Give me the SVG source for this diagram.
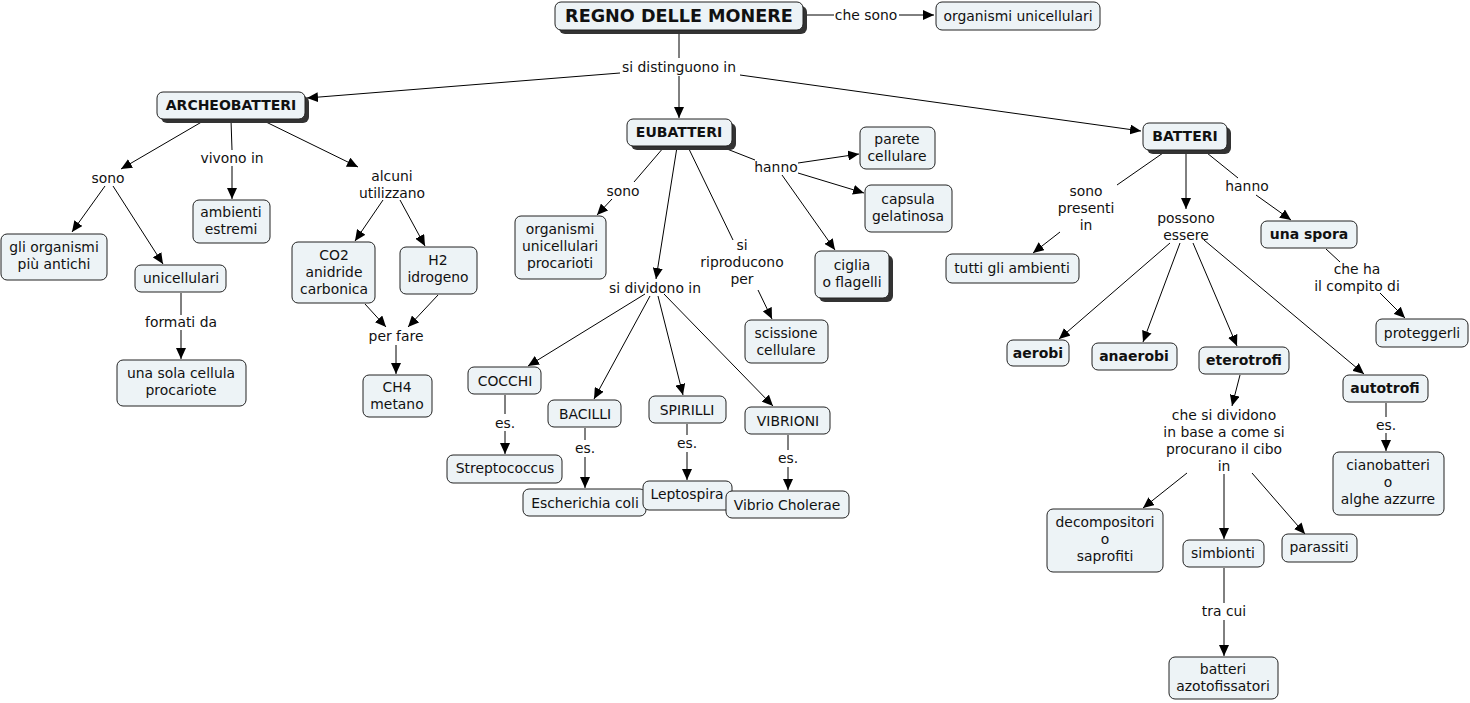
<svg xmlns="http://www.w3.org/2000/svg" width="1470" height="703" viewBox="0 0 1470 703">
<defs>
<marker id="arr" markerUnits="userSpaceOnUse" markerWidth="11" markerHeight="10" refX="11" refY="5" orient="auto">
<path d="M0,0 L11,5 L0,10 z" fill="#000"/>
</marker>
</defs>
<style>
.n rect.b{fill:#edf3f6;stroke:#222;stroke-width:1}
.n rect.s{fill:#333}
text{font-family:"DejaVu Sans","Liberation Sans",sans-serif;font-size:13.9px;fill:#111;text-anchor:middle}
.bd{font-weight:bold;font-size:14px}
.big{font-size:17.6px;font-weight:bold}
#conn line{stroke:#000;stroke-width:1}
#conn line.a{marker-end:url(#arr)}
</style>
<rect width="1470" height="703" fill="#fff"/>
<g id="conn">
<line x1="803" y1="15" x2="834" y2="15"/>
<line class="a" x1="899" y1="15" x2="934" y2="15"/>
<line x1="679" y1="30" x2="679" y2="58"/>
<line class="a" x1="620" y1="73" x2="307" y2="98"/>
<line class="a" x1="679" y1="76" x2="679" y2="118"/>
<line class="a" x1="740" y1="75" x2="1141" y2="131"/>
<line class="a" x1="205" y1="120" x2="121" y2="169"/>
<line class="a" x1="105" y1="186" x2="72" y2="232"/>
<line class="a" x1="113" y1="186" x2="163" y2="264"/>
<line x1="231" y1="120" x2="232" y2="150"/>
<line class="a" x1="232" y1="166" x2="232" y2="199"/>
<line class="a" x1="264" y1="121" x2="358" y2="167"/>
<line class="a" x1="383" y1="200" x2="355" y2="241"/>
<line class="a" x1="400" y1="200" x2="425" y2="246"/>
<line x1="181" y1="293" x2="181" y2="315"/>
<line class="a" x1="181" y1="330" x2="181" y2="359"/>
<line class="a" x1="365" y1="304" x2="386" y2="327"/>
<line class="a" x1="438" y1="295" x2="408" y2="327"/>
<line class="a" x1="396" y1="345" x2="396" y2="374"/>
<line x1="664" y1="147" x2="634" y2="182"/>
<line class="a" x1="612" y1="199" x2="597" y2="215"/>
<line class="a" x1="677" y1="147" x2="656" y2="279"/>
<line x1="688" y1="147" x2="733" y2="240"/>
<line class="a" x1="758" y1="290" x2="772" y2="319"/>
<line x1="727" y1="149" x2="755" y2="160"/>
<line class="a" x1="798" y1="163" x2="859" y2="154"/>
<line class="a" x1="798" y1="173" x2="864" y2="193"/>
<line class="a" x1="782" y1="175" x2="835" y2="250"/>
<line class="a" x1="645" y1="294" x2="528" y2="366"/>
<line class="a" x1="650" y1="296" x2="594" y2="399"/>
<line class="a" x1="658" y1="296" x2="683" y2="395"/>
<line class="a" x1="664" y1="294" x2="773" y2="406"/>
<line x1="505" y1="395" x2="505" y2="414"/>
<line class="a" x1="505" y1="431" x2="505" y2="454"/>
<line x1="585" y1="428" x2="585" y2="440"/>
<line class="a" x1="585" y1="457" x2="585" y2="488"/>
<line x1="687" y1="424" x2="687" y2="435"/>
<line class="a" x1="687" y1="452" x2="687" y2="480"/>
<line x1="788" y1="435" x2="788" y2="450"/>
<line class="a" x1="788" y1="467" x2="788" y2="490"/>
<line x1="1163" y1="153" x2="1117" y2="185"/>
<line class="a" x1="1060" y1="232" x2="1033" y2="253"/>
<line class="a" x1="1186" y1="152" x2="1186" y2="209"/>
<line x1="1207" y1="153" x2="1238" y2="178"/>
<line class="a" x1="1256" y1="195" x2="1291" y2="220"/>
<line x1="1326" y1="249" x2="1340" y2="262"/>
<line class="a" x1="1380" y1="293" x2="1405" y2="318"/>
<line class="a" x1="1170" y1="243" x2="1059" y2="339"/>
<line class="a" x1="1180" y1="243" x2="1143" y2="342"/>
<line class="a" x1="1193" y1="243" x2="1237" y2="346"/>
<line class="a" x1="1204" y1="240" x2="1364" y2="374"/>
<line class="a" x1="1240" y1="375" x2="1232" y2="406"/>
<line class="a" x1="1187" y1="473" x2="1143" y2="508"/>
<line class="a" x1="1224" y1="474" x2="1224" y2="539"/>
<line class="a" x1="1252" y1="473" x2="1305" y2="534"/>
<line x1="1224" y1="568" x2="1224" y2="603"/>
<line class="a" x1="1224" y1="620" x2="1224" y2="656"/>
<line x1="1386" y1="403" x2="1386" y2="417"/>
<line class="a" x1="1386" y1="433" x2="1386" y2="451"/>
</g>
<g id="labels">
<text x="866" y="20">che sono</text>
<text x="679" y="72">si distinguono in</text>
<text x="108" y="183">sono</text>
<text x="232" y="163">vivono in</text>
<text x="392" y="181">alcuni<tspan x="392" dy="17">utilizzano</tspan></text>
<text x="181" y="327">formati da</text>
<text x="396" y="341">per fare</text>
<text x="623" y="196">sono</text>
<text x="655" y="293">si dividono in</text>
<text x="742" y="250">si<tspan x="742" dy="17">riproducono</tspan><tspan x="742" dy="17">per</tspan></text>
<text x="776" y="172">hanno</text>
<text x="505" y="428">es.</text>
<text x="585" y="453">es.</text>
<text x="687" y="448">es.</text>
<text x="788" y="463">es.</text>
<text x="1086" y="196">sono<tspan x="1086" dy="17">presenti</tspan><tspan x="1086" dy="17">in</tspan></text>
<text x="1186" y="223">possono<tspan x="1186" dy="17">essere</tspan></text>
<text x="1247" y="191">hanno</text>
<text x="1357" y="274">che ha<tspan x="1357" dy="17">il compito di</tspan></text>
<text x="1224" y="420">che si dividono<tspan x="1224" dy="17">in base a come si</tspan><tspan x="1224" dy="17">procurano il cibo</tspan><tspan x="1224" dy="17">in</tspan></text>
<text x="1386" y="430">es.</text>
<text x="1224" y="616">tra cui</text>
</g>
<g id="regno" class="n"><rect class="s" x="559" y="6" width="248" height="28" rx="6"/><rect class="b" x="555" y="2" width="248" height="28" rx="6"/><text class="big" x="679" y="22">REGNO DELLE MONERE</text></g>
<g id="org-unicell" class="n"><rect class="b" x="936" y="2" width="164" height="28" rx="6"/><text x="1018" y="21">organismi unicellulari</text></g>
<g id="archeo" class="n"><rect class="s" x="161" y="96" width="148" height="27" rx="6"/><rect class="b" x="157" y="92" width="148" height="27" rx="6"/><text class="bd" x="231" y="110">ARCHEOBATTERI</text></g>
<g id="eubatteri" class="n"><rect class="s" x="631" y="123" width="105" height="27" rx="6"/><rect class="b" x="627" y="119" width="105" height="27" rx="6"/><text class="bd" x="679" y="137">EUBATTERI</text></g>
<g id="batteri" class="n"><rect class="s" x="1147" y="127" width="84" height="27" rx="6"/><rect class="b" x="1143" y="123" width="84" height="27" rx="6"/><text class="bd" x="1185" y="141">BATTERI</text></g>
<g id="antichi" class="n"><rect class="b" x="1" y="234" width="106" height="46" rx="6"/><text x="54" y="252">gli organismi<tspan x="54" dy="17">più antichi</tspan></text></g>
<g id="estremi" class="n"><rect class="b" x="193" y="200" width="77" height="43" rx="6"/><text x="231" y="217">ambienti<tspan x="231" dy="17">estremi</tspan></text></g>
<g id="unicellulari" class="n"><rect class="b" x="135" y="265" width="91" height="27" rx="6"/><text x="181" y="283">unicellulari</text></g>
<g id="sola-cellula" class="n"><rect class="b" x="117" y="360" width="129" height="46" rx="6"/><text x="181" y="378">una sola cellula<tspan x="181" dy="17">procariote</tspan></text></g>
<g id="co2" class="n"><rect class="b" x="292" y="242" width="83" height="61" rx="6"/><text x="334" y="260">CO2<tspan x="334" dy="17">anidride</tspan><tspan x="334" dy="17">carbonica</tspan></text></g>
<g id="h2" class="n"><rect class="b" x="400" y="247" width="77" height="47" rx="6"/><text x="438" y="265">H2<tspan x="438" dy="17">idrogeno</tspan></text></g>
<g id="ch4" class="n"><rect class="b" x="363" y="375" width="69" height="42" rx="6"/><text x="397" y="392">CH4<tspan x="397" dy="17">metano</tspan></text></g>
<g id="procarioti" class="n"><rect class="b" x="515" y="216" width="91" height="63" rx="6"/><text x="560" y="234">organismi<tspan x="560" dy="17">unicellulari</tspan><tspan x="560" dy="17">procarioti</tspan></text></g>
<g id="parete" class="n"><rect class="b" x="860" y="127" width="75" height="42" rx="6"/><text x="897" y="144">parete<tspan x="897" dy="17">cellulare</tspan></text></g>
<g id="capsula" class="n"><rect class="b" x="865" y="185" width="87" height="47" rx="6"/><text x="908" y="204">capsula<tspan x="908" dy="17">gelatinosa</tspan></text></g>
<g id="ciglia" class="n"><rect class="s" x="819" y="255" width="74" height="47" rx="6"/><rect class="b" x="815" y="251" width="74" height="47" rx="6"/><text x="852" y="270">ciglia<tspan x="852" dy="17">o flagelli</tspan></text></g>
<g id="scissione" class="n"><rect class="b" x="745" y="320" width="83" height="43" rx="6"/><text x="786" y="338">scissione<tspan x="786" dy="17">cellulare</tspan></text></g>
<g id="cocchi" class="n"><rect class="b" x="468" y="367" width="73" height="27" rx="6"/><text x="505" y="386">COCCHI</text></g>
<g id="bacilli" class="n"><rect class="b" x="548" y="400" width="73" height="27" rx="6"/><text x="585" y="419">BACILLI</text></g>
<g id="spirilli" class="n"><rect class="b" x="649" y="396" width="77" height="27" rx="6"/><text x="687" y="415">SPIRILLI</text></g>
<g id="vibrioni" class="n"><rect class="b" x="745" y="407" width="85" height="27" rx="6"/><text x="788" y="426">VIBRIONI</text></g>
<g id="strepto" class="n"><rect class="b" x="447" y="455" width="115" height="28" rx="6"/><text x="505" y="473">Streptococcus</text></g>
<g id="escherichia" class="n"><rect class="b" x="523" y="489" width="123" height="27" rx="6"/><text x="585" y="508">Escherichia coli</text></g>
<g id="leptospira" class="n"><rect class="b" x="643" y="481" width="89" height="29" rx="6"/><text x="687" y="499">Leptospira</text></g>
<g id="vibrio" class="n"><rect class="b" x="726" y="491" width="123" height="27" rx="6"/><text x="787" y="510">Vibrio Cholerae</text></g>
<g id="tutti" class="n"><rect class="b" x="946" y="254" width="133" height="29" rx="6"/><text x="1012" y="273">tutti gli ambienti</text></g>
<g id="aerobi" class="n"><rect class="b" x="1007" y="340" width="62" height="26" rx="6"/><text class="bd" x="1038" y="358">aerobi</text></g>
<g id="anaerobi" class="n"><rect class="b" x="1092" y="343" width="85" height="27" rx="6"/><text class="bd" x="1134" y="361">anaerobi</text></g>
<g id="eterotrofi" class="n"><rect class="b" x="1199" y="347" width="90" height="27" rx="6"/><text class="bd" x="1244" y="365">eterotrofi</text></g>
<g id="spora" class="n"><rect class="b" x="1261" y="221" width="96" height="27" rx="6"/><text class="bd" x="1309" y="239">una spora</text></g>
<g id="proteggerli" class="n"><rect class="b" x="1376" y="319" width="92" height="28" rx="6"/><text x="1422" y="338">proteggerli</text></g>
<g id="autotrofi" class="n"><rect class="b" x="1343" y="375" width="85" height="27" rx="6"/><text class="bd" x="1385" y="393">autotrofi</text></g>
<g id="ciano" class="n"><rect class="b" x="1333" y="452" width="111" height="63" rx="6"/><text x="1388" y="470">cianobatteri<tspan x="1388" dy="17">o</tspan><tspan x="1388" dy="17">alghe azzurre</tspan></text></g>
<g id="decompositori" class="n"><rect class="b" x="1047" y="509" width="116" height="63" rx="6"/><text x="1105" y="527">decompositori<tspan x="1105" dy="17">o</tspan><tspan x="1105" dy="17">saprofiti</tspan></text></g>
<g id="simbionti" class="n"><rect class="b" x="1183" y="540" width="81" height="27" rx="6"/><text x="1223" y="558">simbionti</text></g>
<g id="parassiti" class="n"><rect class="b" x="1282" y="534" width="75" height="28" rx="6"/><text x="1319" y="552">parassiti</text></g>
<g id="azoto" class="n"><rect class="b" x="1169" y="657" width="109" height="42" rx="6"/><text x="1223" y="674">batteri<tspan x="1223" dy="17">azotofissatori</tspan></text></g>
</svg>
